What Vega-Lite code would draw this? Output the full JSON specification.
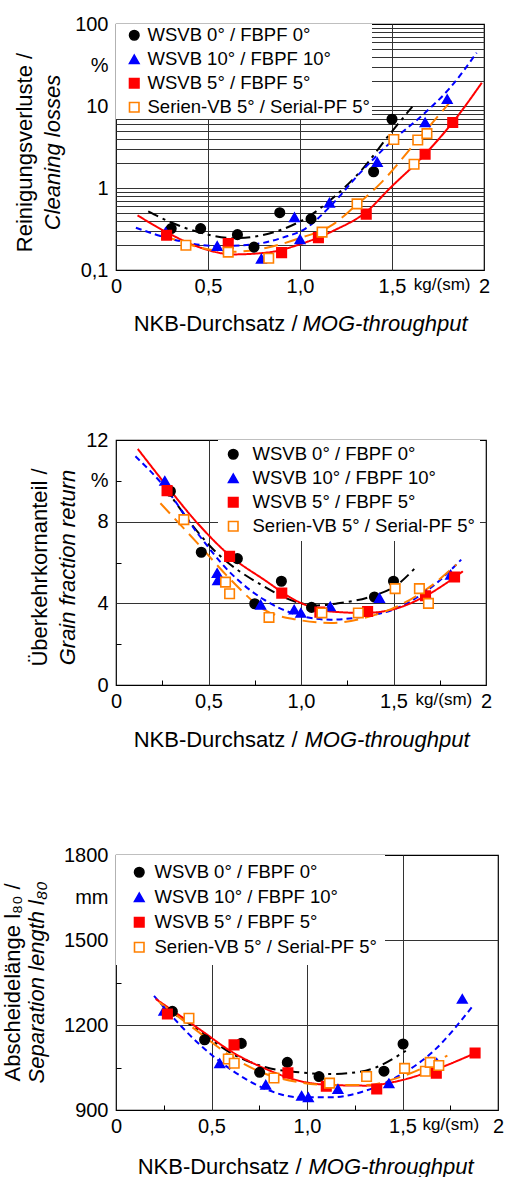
{
  "$schema": "https://vega.github.io/schema/vega-lite/v6.json",
  "padding": {"left": 0, "top": 13, "right": 0, "bottom": 0},
  "spacing": 170,
  "bounds": "flush",
  "datasets": {
    "lossPts": [
      {"s":"WSVB 0° / FBPF 0°","x":0.30,"y":0.32},{"s":"WSVB 0° / FBPF 0°","x":0.46,"y":0.32},{"s":"WSVB 0° / FBPF 0°","x":0.66,"y":0.27},{"s":"WSVB 0° / FBPF 0°","x":0.75,"y":0.19},{"s":"WSVB 0° / FBPF 0°","x":0.89,"y":0.50},{"s":"WSVB 0° / FBPF 0°","x":1.06,"y":0.42},{"s":"WSVB 0° / FBPF 0°","x":1.40,"y":1.58},{"s":"WSVB 0° / FBPF 0°","x":1.50,"y":6.9},
      {"s":"WSVB 10° / FBPF 10°","x":0.27,"y":0.29},{"s":"WSVB 10° / FBPF 10°","x":0.55,"y":0.196},{"s":"WSVB 10° / FBPF 10°","x":0.79,"y":0.137},{"s":"WSVB 10° / FBPF 10°","x":0.97,"y":0.44},{"s":"WSVB 10° / FBPF 10°","x":1.00,"y":0.237},{"s":"WSVB 10° / FBPF 10°","x":1.16,"y":0.66},{"s":"WSVB 10° / FBPF 10°","x":1.42,"y":2.07},{"s":"WSVB 10° / FBPF 10°","x":1.68,"y":6.3},{"s":"WSVB 10° / FBPF 10°","x":1.80,"y":12.1},
      {"s":"WSVB 5° / FBPF 5°","x":0.275,"y":0.265},{"s":"WSVB 5° / FBPF 5°","x":0.61,"y":0.21},{"s":"WSVB 5° / FBPF 5°","x":0.90,"y":0.163},{"s":"WSVB 5° / FBPF 5°","x":1.10,"y":0.248},{"s":"WSVB 5° / FBPF 5°","x":1.36,"y":0.48},{"s":"WSVB 5° / FBPF 5°","x":1.68,"y":2.58},{"s":"WSVB 5° / FBPF 5°","x":1.83,"y":6.3},
      {"s":"Serien-VB 5° / Serial-PF 5°","x":0.38,"y":0.20},{"s":"Serien-VB 5° / Serial-PF 5°","x":0.61,"y":0.165},{"s":"Serien-VB 5° / Serial-PF 5°","x":0.83,"y":0.139},{"s":"Serien-VB 5° / Serial-PF 5°","x":1.12,"y":0.29},{"s":"Serien-VB 5° / Serial-PF 5°","x":1.31,"y":0.64},{"s":"Serien-VB 5° / Serial-PF 5°","x":1.51,"y":3.9},{"s":"Serien-VB 5° / Serial-PF 5°","x":1.62,"y":1.95},{"s":"Serien-VB 5° / Serial-PF 5°","x":1.64,"y":3.85},{"s":"Serien-VB 5° / Serial-PF 5°","x":1.69,"y":4.6}
    ],
    "lossFit": [
      {"s":"WSVB 0° / FBPF 0°","x":0.175,"y":0.52},{"s":"WSVB 0° / FBPF 0°","x":0.30,"y":0.38},{"s":"WSVB 0° / FBPF 0°","x":0.46,"y":0.285},{"s":"WSVB 0° / FBPF 0°","x":0.64,"y":0.244},{"s":"WSVB 0° / FBPF 0°","x":0.88,"y":0.30},{"s":"WSVB 0° / FBPF 0°","x":1.04,"y":0.44},{"s":"WSVB 0° / FBPF 0°","x":1.18,"y":0.76},{"s":"WSVB 0° / FBPF 0°","x":1.33,"y":1.61},{"s":"WSVB 0° / FBPF 0°","x":1.49,"y":4.6},{"s":"WSVB 0° / FBPF 0°","x":1.61,"y":9.8},
      {"s":"WSVB 10° / FBPF 10°","x":0.108,"y":0.328},{"s":"WSVB 10° / FBPF 10°","x":0.26,"y":0.253},{"s":"WSVB 10° / FBPF 10°","x":0.55,"y":0.196},{"s":"WSVB 10° / FBPF 10°","x":0.75,"y":0.206},{"s":"WSVB 10° / FBPF 10°","x":0.91,"y":0.25},{"s":"WSVB 10° / FBPF 10°","x":1.03,"y":0.32},{"s":"WSVB 10° / FBPF 10°","x":1.165,"y":0.6},{"s":"WSVB 10° / FBPF 10°","x":1.328,"y":1.54},{"s":"WSVB 10° / FBPF 10°","x":1.49,"y":3.57},{"s":"WSVB 10° / FBPF 10°","x":1.67,"y":7.9},{"s":"WSVB 10° / FBPF 10°","x":1.816,"y":16.7},{"s":"WSVB 10° / FBPF 10°","x":1.96,"y":44.6},
      {"s":"WSVB 5° / FBPF 5°","x":0.117,"y":0.464},{"s":"WSVB 5° / FBPF 5°","x":0.28,"y":0.285},{"s":"WSVB 5° / FBPF 5°","x":0.46,"y":0.187},{"s":"WSVB 5° / FBPF 5°","x":0.64,"y":0.155},{"s":"WSVB 5° / FBPF 5°","x":0.82,"y":0.163},{"s":"WSVB 5° / FBPF 5°","x":1.0,"y":0.206},{"s":"WSVB 5° / FBPF 5°","x":1.18,"y":0.30},{"s":"WSVB 5° / FBPF 5°","x":1.364,"y":0.52},{"s":"WSVB 5° / FBPF 5°","x":1.49,"y":1.0},{"s":"WSVB 5° / FBPF 5°","x":1.67,"y":2.45},{"s":"WSVB 5° / FBPF 5°","x":1.85,"y":7.2},{"s":"WSVB 5° / FBPF 5°","x":1.988,"y":19.2},
      {"s":"Serien-VB 5° / Serial-PF 5°","x":0.25,"y":0.27},{"s":"Serien-VB 5° / Serial-PF 5°","x":0.46,"y":0.187},{"s":"Serien-VB 5° / Serial-PF 5°","x":0.64,"y":0.167},{"s":"Serien-VB 5° / Serial-PF 5°","x":0.82,"y":0.187},{"s":"Serien-VB 5° / Serial-PF 5°","x":1.0,"y":0.245},{"s":"Serien-VB 5° / Serial-PF 5°","x":1.18,"y":0.36},{"s":"Serien-VB 5° / Serial-PF 5°","x":1.29,"y":0.575},{"s":"Serien-VB 5° / Serial-PF 5°","x":1.436,"y":1.13},{"s":"Serien-VB 5° / Serial-PF 5°","x":1.635,"y":3.74},{"s":"Serien-VB 5° / Serial-PF 5°","x":1.835,"y":12.6}
    ],
    "grainPts": [
      {"s":"WSVB 0° / FBPF 0°","x":0.294,"y":9.49},{"s":"WSVB 0° / FBPF 0°","x":0.461,"y":6.5},{"s":"WSVB 0° / FBPF 0°","x":0.656,"y":6.19},{"s":"WSVB 0° / FBPF 0°","x":0.75,"y":3.98},{"s":"WSVB 0° / FBPF 0°","x":0.894,"y":5.08},{"s":"WSVB 0° / FBPF 0°","x":1.057,"y":3.8},{"s":"WSVB 0° / FBPF 0°","x":1.397,"y":4.31},{"s":"WSVB 0° / FBPF 0°","x":1.5,"y":5.08},
      {"s":"WSVB 10° / FBPF 10°","x":0.264,"y":10.0},{"s":"WSVB 10° / FBPF 10°","x":0.547,"y":5.48},{"s":"WSVB 10° / FBPF 10°","x":0.55,"y":5.13},{"s":"WSVB 10° / FBPF 10°","x":0.782,"y":3.93},{"s":"WSVB 10° / FBPF 10°","x":0.963,"y":3.69},{"s":"WSVB 10° / FBPF 10°","x":0.999,"y":3.53},{"s":"WSVB 10° / FBPF 10°","x":1.158,"y":3.85},{"s":"WSVB 10° / FBPF 10°","x":1.424,"y":4.26},{"s":"WSVB 10° / FBPF 10°","x":1.677,"y":4.42},{"s":"WSVB 10° / FBPF 10°","x":1.809,"y":5.40},
      {"s":"WSVB 5° / FBPF 5°","x":0.276,"y":9.52},{"s":"WSVB 5° / FBPF 5°","x":0.614,"y":6.3},{"s":"WSVB 5° / FBPF 5°","x":0.896,"y":4.5},{"s":"WSVB 5° / FBPF 5°","x":1.102,"y":3.57},{"s":"WSVB 5° / FBPF 5°","x":1.36,"y":3.6},{"s":"WSVB 5° / FBPF 5°","x":1.673,"y":4.37},{"s":"WSVB 5° / FBPF 5°","x":1.83,"y":5.29},
      {"s":"Serien-VB 5° / Serial-PF 5°","x":0.367,"y":8.1},{"s":"Serien-VB 5° / Serial-PF 5°","x":0.592,"y":5.04},{"s":"Serien-VB 5° / Serial-PF 5°","x":0.614,"y":4.47},{"s":"Serien-VB 5° / Serial-PF 5°","x":0.827,"y":3.31},{"s":"Serien-VB 5° / Serial-PF 5°","x":1.113,"y":3.53},{"s":"Serien-VB 5° / Serial-PF 5°","x":1.31,"y":3.53},{"s":"Serien-VB 5° / Serial-PF 5°","x":1.509,"y":4.72},{"s":"Serien-VB 5° / Serial-PF 5°","x":1.64,"y":4.72},{"s":"Serien-VB 5° / Serial-PF 5°","x":1.689,"y":4.0}
    ],
    "grainFit": [
      {"s":"WSVB 0° / FBPF 0°","x":0.26,"y":9.73},{"s":"WSVB 0° / FBPF 0°","x":0.53,"y":6.6},{"s":"WSVB 0° / FBPF 0°","x":0.80,"y":4.83},{"s":"WSVB 0° / FBPF 0°","x":0.98,"y":4.05},{"s":"WSVB 0° / FBPF 0°","x":1.09,"y":3.9},{"s":"WSVB 0° / FBPF 0°","x":1.2,"y":4.0},{"s":"WSVB 0° / FBPF 0°","x":1.38,"y":4.34},{"s":"WSVB 0° / FBPF 0°","x":1.52,"y":4.91},{"s":"WSVB 0° / FBPF 0°","x":1.62,"y":5.76},
      {"s":"WSVB 10° / FBPF 10°","x":0.105,"y":11.2},{"s":"WSVB 10° / FBPF 10°","x":0.26,"y":9.73},{"s":"WSVB 10° / FBPF 10°","x":0.44,"y":7.44},{"s":"WSVB 10° / FBPF 10°","x":0.62,"y":5.48},{"s":"WSVB 10° / FBPF 10°","x":0.80,"y":4.18},{"s":"WSVB 10° / FBPF 10°","x":0.98,"y":3.44},{"s":"WSVB 10° / FBPF 10°","x":1.16,"y":3.2},{"s":"WSVB 10° / FBPF 10°","x":1.34,"y":3.36},{"s":"WSVB 10° / FBPF 10°","x":1.52,"y":3.77},{"s":"WSVB 10° / FBPF 10°","x":1.70,"y":4.75},{"s":"WSVB 10° / FBPF 10°","x":1.866,"y":6.14},
      {"s":"WSVB 5° / FBPF 5°","x":0.118,"y":11.56},{"s":"WSVB 5° / FBPF 5°","x":0.276,"y":9.73},{"s":"WSVB 5° / FBPF 5°","x":0.44,"y":7.93},{"s":"WSVB 5° / FBPF 5°","x":0.62,"y":6.3},{"s":"WSVB 5° / FBPF 5°","x":0.80,"y":5.16},{"s":"WSVB 5° / FBPF 5°","x":0.98,"y":4.1},{"s":"WSVB 5° / FBPF 5°","x":1.16,"y":3.6},{"s":"WSVB 5° / FBPF 5°","x":1.343,"y":3.53},{"s":"WSVB 5° / FBPF 5°","x":1.523,"y":3.77},{"s":"WSVB 5° / FBPF 5°","x":1.70,"y":4.5},{"s":"WSVB 5° / FBPF 5°","x":1.875,"y":5.57},
      {"s":"Serien-VB 5° / Serial-PF 5°","x":0.24,"y":8.9},{"s":"Serien-VB 5° / Serial-PF 5°","x":0.44,"y":6.95},{"s":"Serien-VB 5° / Serial-PF 5°","x":0.62,"y":5.16},{"s":"Serien-VB 5° / Serial-PF 5°","x":0.80,"y":3.69},{"s":"Serien-VB 5° / Serial-PF 5°","x":0.98,"y":3.2},{"s":"Serien-VB 5° / Serial-PF 5°","x":1.16,"y":3.04},{"s":"Serien-VB 5° / Serial-PF 5°","x":1.34,"y":3.28},{"s":"Serien-VB 5° / Serial-PF 5°","x":1.52,"y":3.85},{"s":"Serien-VB 5° / Serial-PF 5°","x":1.70,"y":4.83},{"s":"Serien-VB 5° / Serial-PF 5°","x":1.84,"y":5.9}
    ],
    "sepPts": [
      {"s":"WSVB 0° / FBPF 0°","x":0.295,"y":1248},{"s":"WSVB 0° / FBPF 0°","x":0.464,"y":1148},{"s":"WSVB 0° / FBPF 0°","x":0.656,"y":1135},{"s":"WSVB 0° / FBPF 0°","x":0.752,"y":1033},{"s":"WSVB 0° / FBPF 0°","x":0.897,"y":1068},{"s":"WSVB 0° / FBPF 0°","x":1.063,"y":1018},{"s":"WSVB 0° / FBPF 0°","x":1.403,"y":1037},{"s":"WSVB 0° / FBPF 0°","x":1.503,"y":1133},
      {"s":"WSVB 10° / FBPF 10°","x":0.251,"y":1250},{"s":"WSVB 10° / FBPF 10°","x":0.543,"y":1065},{"s":"WSVB 10° / FBPF 10°","x":0.784,"y":989},{"s":"WSVB 10° / FBPF 10°","x":0.972,"y":950},{"s":"WSVB 10° / FBPF 10°","x":1.007,"y":945},{"s":"WSVB 10° / FBPF 10°","x":1.162,"y":974},{"s":"WSVB 10° / FBPF 10°","x":1.429,"y":994},{"s":"WSVB 10° / FBPF 10°","x":1.679,"y":1066},{"s":"WSVB 10° / FBPF 10°","x":1.813,"y":1292},
      {"s":"WSVB 5° / FBPF 5°","x":0.269,"y":1239},{"s":"WSVB 5° / FBPF 5°","x":0.618,"y":1130},{"s":"WSVB 5° / FBPF 5°","x":0.90,"y":1031},{"s":"WSVB 5° / FBPF 5°","x":1.101,"y":984},{"s":"WSVB 5° / FBPF 5°","x":1.365,"y":974},{"s":"WSVB 5° / FBPF 5°","x":1.677,"y":1030},{"s":"WSVB 5° / FBPF 5°","x":1.88,"y":1101},
      {"s":"Serien-VB 5° / Serial-PF 5°","x":0.382,"y":1224},{"s":"Serien-VB 5° / Serial-PF 5°","x":0.588,"y":1080},{"s":"Serien-VB 5° / Serial-PF 5°","x":0.619,"y":1065},{"s":"Serien-VB 5° / Serial-PF 5°","x":0.827,"y":1013},{"s":"Serien-VB 5° / Serial-PF 5°","x":1.118,"y":995},{"s":"Serien-VB 5° / Serial-PF 5°","x":1.312,"y":1018},{"s":"Serien-VB 5° / Serial-PF 5°","x":1.511,"y":1047},{"s":"Serien-VB 5° / Serial-PF 5°","x":1.62,"y":1037},{"s":"Serien-VB 5° / Serial-PF 5°","x":1.645,"y":1068},{"s":"Serien-VB 5° / Serial-PF 5°","x":1.69,"y":1057}
    ],
    "sepFit": [
      {"s":"WSVB 0° / FBPF 0°","x":0.242,"y":1268},{"s":"WSVB 0° / FBPF 0°","x":0.435,"y":1180},{"s":"WSVB 0° / FBPF 0°","x":0.61,"y":1098},{"s":"WSVB 0° / FBPF 0°","x":0.784,"y":1051},{"s":"WSVB 0° / FBPF 0°","x":0.958,"y":1033},{"s":"WSVB 0° / FBPF 0°","x":1.132,"y":1027},{"s":"WSVB 0° / FBPF 0°","x":1.307,"y":1039},{"s":"WSVB 0° / FBPF 0°","x":1.517,"y":1109},
      {"s":"WSVB 10° / FBPF 10°","x":0.199,"y":1303},{"s":"WSVB 10° / FBPF 10°","x":0.435,"y":1133},{"s":"WSVB 10° / FBPF 10°","x":0.61,"y":1039},{"s":"WSVB 10° / FBPF 10°","x":0.784,"y":974},{"s":"WSVB 10° / FBPF 10°","x":0.958,"y":945},{"s":"WSVB 10° / FBPF 10°","x":1.132,"y":945},{"s":"WSVB 10° / FBPF 10°","x":1.307,"y":968},{"s":"WSVB 10° / FBPF 10°","x":1.482,"y":1021},{"s":"WSVB 10° / FBPF 10°","x":1.656,"y":1104},{"s":"WSVB 10° / FBPF 10°","x":1.862,"y":1262},
      {"s":"WSVB 5° / FBPF 5°","x":0.208,"y":1292},{"s":"WSVB 5° / FBPF 5°","x":0.435,"y":1186},{"s":"WSVB 5° / FBPF 5°","x":0.61,"y":1104},{"s":"WSVB 5° / FBPF 5°","x":0.784,"y":1045},{"s":"WSVB 5° / FBPF 5°","x":0.958,"y":1003},{"s":"WSVB 5° / FBPF 5°","x":1.132,"y":988},{"s":"WSVB 5° / FBPF 5°","x":1.307,"y":986},{"s":"WSVB 5° / FBPF 5°","x":1.482,"y":1003},{"s":"WSVB 5° / FBPF 5°","x":1.656,"y":1039},{"s":"WSVB 5° / FBPF 5°","x":1.892,"y":1104},
      {"s":"Serien-VB 5° / Serial-PF 5°","x":0.225,"y":1281},{"s":"Serien-VB 5° / Serial-PF 5°","x":0.435,"y":1174},{"s":"Serien-VB 5° / Serial-PF 5°","x":0.61,"y":1086},{"s":"Serien-VB 5° / Serial-PF 5°","x":0.784,"y":1027},{"s":"Serien-VB 5° / Serial-PF 5°","x":0.958,"y":998},{"s":"Serien-VB 5° / Serial-PF 5°","x":1.132,"y":988},{"s":"Serien-VB 5° / Serial-PF 5°","x":1.307,"y":988},{"s":"Serien-VB 5° / Serial-PF 5°","x":1.482,"y":1015},{"s":"Serien-VB 5° / Serial-PF 5°","x":1.735,"y":1092}
    ]
  },
  "vconcat": [
    {
      "width": 368, "height": 246,
      "layer": [
        {
          "data": {"name": "lossFit"},
          "mark": {"type": "line", "strokeWidth": 2, "interpolate": "monotone", "clip": true},
          "encoding": {
            "x": {"field": "x", "type": "quantitative", "scale": {"domain": [0, 2], "nice": false},
              "axis": {"orient": "bottom", "values": [0, 0.5, 1, 1.5, 1.77, 2], "grid": false, "labelPadding": 6, "labelOverlap": false, "labelFlush": false,
                "labelExpr": "datum.value == 0 ? '0' : datum.value == 2 ? '2' : datum.value > 1.7 ? 'kg/(sm)' : replace(format(datum.value, '.1f'), '.', ',')",
                "labelFontSize": {"condition": {"test": "datum.value > 1.7 && datum.value < 1.9", "value": 17}, "value": 20},
                "title": "NKB-Durchsatz /", "titleAlign": "right", "titleX": 181, "titleY": 60, "titleBaseline": "alphabetic"}},
            "y": {"field": "y", "type": "quantitative", "scale": {"type": "log", "domain": [0.1, 100], "nice": false},
              "axis": {"orient": "left", "values": [0.1, 1, 10, 31.62, 100], "grid": false, "labelPadding": 8,
                "labelExpr": "datum.value < 0.5 ? '0,1' : datum.value < 5 ? '1' : datum.value < 20 ? '10' : datum.value < 50 ? '%' : '100'",
                "title": "Reinigungsverluste /", "titleX": -92, "titleY": 128, "titleAngle": 270, "titleBaseline": "middle"}},
            "color": {"field": "s", "type": "nominal", "legend": null, "scale": {"domain": ["WSVB 0° / FBPF 0°", "WSVB 10° / FBPF 10°", "WSVB 5° / FBPF 5°", "Serien-VB 5° / Serial-PF 5°"], "range": ["#000000", "#0000ff", "#ff0000", "#ff8000"]}},
            "strokeDash": {"field": "s", "type": "nominal", "legend": null, "scale": {"domain": ["WSVB 0° / FBPF 0°", "WSVB 10° / FBPF 10°", "WSVB 5° / FBPF 5°", "Serien-VB 5° / Serial-PF 5°"], "range": [[11, 5, 3, 5], [6, 4], [1, 0], [14, 7]]}}
          }
        },
        {
          "data": {"name": "lossPts"},
          "mark": {"type": "point", "size": 90, "strokeWidth": 1.6, "opacity": 1},
          "encoding": {
            "x": {"field": "x", "type": "quantitative", "scale": {"domain": [0, 2], "nice": false},
              "axis": {"orient": "bottom", "values": [0.5, 1, 1.5], "grid": true, "labels": false,
                "title": "MOG-throughput", "titleFontStyle": "italic", "titleAlign": "left", "titleX": 186, "titleY": 60, "titleBaseline": "alphabetic"}},
            "y": {"field": "y", "type": "quantitative", "scale": {"type": "log", "domain": [0.1, 100], "nice": false},
              "axis": {"orient": "left", "values": [0.2, 0.3, 0.4, 0.5, 0.6, 0.7, 0.8, 0.9, 1, 2, 3, 4, 5, 6, 7, 8, 9, 10, 20, 30, 40, 50, 60, 70, 80, 90], "grid": true, "labels": false,
                "title": "Cleaning losses", "titleFontStyle": "italic", "titleX": -64, "titleY": 128, "titleAngle": 270, "titleBaseline": "middle"}},
            "shape": {"field": "s", "type": "nominal", "scale": {"domain": ["WSVB 0° / FBPF 0°", "WSVB 10° / FBPF 10°", "WSVB 5° / FBPF 5°", "Serien-VB 5° / Serial-PF 5°"], "range": ["circle", "triangle-up", "square", "square"]},
              "legend": {"title": null, "orient": "top-left", "offset": 0, "padding": 2, "fillColor": "white", "symbolOffset": 7, "labelOffset": 4, "rowPadding": 5, "labelFontSize": 18.5, "labelLimit": 400, "symbolSize": 90, "symbolStrokeWidth": 1.6}},
            "fill": {"field": "s", "type": "nominal", "scale": {"domain": ["WSVB 0° / FBPF 0°", "WSVB 10° / FBPF 10°", "WSVB 5° / FBPF 5°", "Serien-VB 5° / Serial-PF 5°"], "range": ["#000000", "#0000ff", "#ff0000", "#ffffff"]},
              "legend": {"title": null, "orient": "top-left", "offset": 0, "padding": 2, "fillColor": "white", "symbolOffset": 7, "labelOffset": 4, "rowPadding": 5, "labelFontSize": 18.5, "labelLimit": 400, "symbolSize": 90, "symbolStrokeWidth": 1.6}},
            "stroke": {"field": "s", "type": "nominal", "scale": {"domain": ["WSVB 0° / FBPF 0°", "WSVB 10° / FBPF 10°", "WSVB 5° / FBPF 5°", "Serien-VB 5° / Serial-PF 5°"], "range": ["#000000", "#0000ff", "#ff0000", "#ff8000"]},
              "legend": {"title": null, "orient": "top-left", "offset": 0, "padding": 2, "fillColor": "white", "symbolOffset": 7, "labelOffset": 4, "rowPadding": 5, "labelFontSize": 18.5, "labelLimit": 400, "symbolSize": 90, "symbolStrokeWidth": 1.6}}
          }
        }
      ],
      "resolve": {"axis": {"x": "independent", "y": "independent"}}
    },
    {
      "width": 370, "height": 245,
      "layer": [
        {
          "data": {"name": "grainFit"},
          "mark": {"type": "line", "strokeWidth": 2, "interpolate": "monotone", "clip": true},
          "encoding": {
            "x": {"field": "x", "type": "quantitative", "scale": {"domain": [0, 2], "nice": false},
              "axis": {"orient": "bottom", "values": [0, 0.5, 1, 1.5, 1.77, 2], "grid": false, "labelPadding": 6, "labelOverlap": false, "labelFlush": false,
                "labelExpr": "datum.value == 0 ? '0' : datum.value == 2 ? '2' : datum.value > 1.7 ? 'kg/(sm)' : replace(format(datum.value, '.1f'), '.', ',')",
                "labelFontSize": {"condition": {"test": "datum.value > 1.7 && datum.value < 1.9", "value": 17}, "value": 20},
                "title": "NKB-Durchsatz /", "titleAlign": "right", "titleX": 181, "titleY": 61, "titleBaseline": "alphabetic"}},
            "y": {"field": "y", "type": "quantitative", "scale": {"domain": [0, 12], "nice": false},
              "axis": {"orient": "left", "values": [0, 4, 8, 10, 12], "grid": false, "labelPadding": 8,
                "labelExpr": "datum.value == 10 ? '%' : format(datum.value, 'd')",
                "title": "Überkehrkornanteil /", "titleX": -77, "titleY": 127, "titleAngle": 270, "titleBaseline": "middle"}},
            "color": {"field": "s", "type": "nominal", "legend": null, "scale": {"domain": ["WSVB 0° / FBPF 0°", "WSVB 10° / FBPF 10°", "WSVB 5° / FBPF 5°", "Serien-VB 5° / Serial-PF 5°"], "range": ["#000000", "#0000ff", "#ff0000", "#ff8000"]}},
            "strokeDash": {"field": "s", "type": "nominal", "legend": null, "scale": {"domain": ["WSVB 0° / FBPF 0°", "WSVB 10° / FBPF 10°", "WSVB 5° / FBPF 5°", "Serien-VB 5° / Serial-PF 5°"], "range": [[11, 5, 3, 5], [6, 4], [1, 0], [14, 7]]}}
          }
        },
        {
          "data": {"name": "grainPts"},
          "mark": {"type": "point", "size": 90, "strokeWidth": 1.6, "opacity": 1},
          "encoding": {
            "x": {"field": "x", "type": "quantitative", "scale": {"domain": [0, 2], "nice": false},
              "axis": {"orient": "bottom", "values": [0.25, 0.5, 0.75, 1, 1.25, 1.5, 1.75], "grid": true, "labels": false,
                "gridOpacity": {"condition": {"test": "datum.value == 0.25 || datum.value == 0.75 || datum.value == 1.25 || datum.value == 1.75", "value": 0}, "value": 1},
                "ticks": true, "tickSize": -5, "tickColor": "#000000",
                "tickOpacity": {"condition": {"test": "datum.value == 0.5 || datum.value == 1 || datum.value == 1.5", "value": 0}, "value": 1},
                "title": "MOG-throughput", "titleFontStyle": "italic", "titleAlign": "left", "titleX": 188, "titleY": 61, "titleBaseline": "alphabetic"}},
            "y": {"field": "y", "type": "quantitative", "scale": {"domain": [0, 12], "nice": false},
              "axis": {"orient": "left", "values": [2, 4, 6, 8, 10], "grid": true, "labels": false,
                "gridOpacity": {"condition": {"test": "datum.value == 2 || datum.value == 6 || datum.value == 10", "value": 0}, "value": 1},
                "ticks": true, "tickSize": -5, "tickColor": "#000000",
                "tickOpacity": {"condition": {"test": "datum.value == 4 || datum.value == 8", "value": 0}, "value": 1},
                "title": "Grain fraction return", "titleFontStyle": "italic", "titleX": -49, "titleY": 127, "titleAngle": 270, "titleBaseline": "middle"}},
            "shape": {"field": "s", "type": "nominal", "scale": {"domain": ["WSVB 0° / FBPF 0°", "WSVB 10° / FBPF 10°", "WSVB 5° / FBPF 5°", "Serien-VB 5° / Serial-PF 5°"], "range": ["circle", "triangle-up", "square", "square"]},
              "legend": {"title": null, "orient": "none", "legendX": 102, "legendY": 0, "padding": 5, "fillColor": "white", "symbolOffset": 1, "labelOffset": 10, "rowPadding": 5, "labelFontSize": 18.5, "labelLimit": 400, "symbolSize": 90, "symbolStrokeWidth": 1.6}},
            "fill": {"field": "s", "type": "nominal", "scale": {"domain": ["WSVB 0° / FBPF 0°", "WSVB 10° / FBPF 10°", "WSVB 5° / FBPF 5°", "Serien-VB 5° / Serial-PF 5°"], "range": ["#000000", "#0000ff", "#ff0000", "#ffffff"]},
              "legend": {"title": null, "orient": "none", "legendX": 102, "legendY": 0, "padding": 5, "fillColor": "white", "symbolOffset": 1, "labelOffset": 10, "rowPadding": 5, "labelFontSize": 18.5, "labelLimit": 400, "symbolSize": 90, "symbolStrokeWidth": 1.6}},
            "stroke": {"field": "s", "type": "nominal", "scale": {"domain": ["WSVB 0° / FBPF 0°", "WSVB 10° / FBPF 10°", "WSVB 5° / FBPF 5°", "Serien-VB 5° / Serial-PF 5°"], "range": ["#000000", "#0000ff", "#ff0000", "#ff8000"]},
              "legend": {"title": null, "orient": "none", "legendX": 102, "legendY": 0, "padding": 5, "fillColor": "white", "symbolOffset": 1, "labelOffset": 10, "rowPadding": 5, "labelFontSize": 18.5, "labelLimit": 400, "symbolSize": 90, "symbolStrokeWidth": 1.6}}
          }
        }
      ],
      "resolve": {"axis": {"x": "independent", "y": "independent"}}
    },
    {
      "width": 382, "height": 255,
      "layer": [
        {
          "data": {"name": "sepFit"},
          "mark": {"type": "line", "strokeWidth": 2, "interpolate": "monotone", "clip": true},
          "encoding": {
            "x": {"field": "x", "type": "quantitative", "scale": {"domain": [0, 2], "nice": false},
              "axis": {"orient": "bottom", "values": [0, 0.5, 1, 1.5, 1.75, 2], "grid": false, "labelPadding": 6, "labelOverlap": false, "labelFlush": false,
                "labelExpr": "datum.value == 0 ? '0' : datum.value == 2 ? '2' : datum.value > 1.7 ? 'kg/(sm)' : replace(format(datum.value, '.1f'), '.', ',')",
                "labelFontSize": {"condition": {"test": "datum.value > 1.7 && datum.value < 1.9", "value": 17}, "value": 20},
                "title": "NKB-Durchsatz /", "titleAlign": "right", "titleX": 185, "titleY": 63, "titleBaseline": "alphabetic"}},
            "y": {"field": "y", "type": "quantitative", "scale": {"domain": [900, 1800], "nice": false, "zero": false},
              "axis": {"orient": "left", "values": [900, 1200, 1500, 1650, 1800], "grid": false, "labelPadding": 8,
                "labelExpr": "datum.value == 1650 ? 'mm' : format(datum.value, 'd')",
                "title": "Abscheidelänge l₈₀ /", "titleX": -104, "titleY": 127, "titleAngle": 270, "titleBaseline": "middle"}},
            "color": {"field": "s", "type": "nominal", "legend": null, "scale": {"domain": ["WSVB 0° / FBPF 0°", "WSVB 10° / FBPF 10°", "WSVB 5° / FBPF 5°", "Serien-VB 5° / Serial-PF 5°"], "range": ["#000000", "#0000ff", "#ff0000", "#ff8000"]}},
            "strokeDash": {"field": "s", "type": "nominal", "legend": null, "scale": {"domain": ["WSVB 0° / FBPF 0°", "WSVB 10° / FBPF 10°", "WSVB 5° / FBPF 5°", "Serien-VB 5° / Serial-PF 5°"], "range": [[11, 5, 3, 5], [6, 4], [1, 0], [14, 7]]}}
          }
        },
        {
          "data": {"name": "sepPts"},
          "mark": {"type": "point", "size": 90, "strokeWidth": 1.6, "opacity": 1},
          "encoding": {
            "x": {"field": "x", "type": "quantitative", "scale": {"domain": [0, 2], "nice": false},
              "axis": {"orient": "bottom", "values": [0.25, 0.5, 0.75, 1, 1.25, 1.5, 1.75], "grid": true, "labels": false,
                "gridOpacity": {"condition": {"test": "datum.value == 0.25 || datum.value == 0.75 || datum.value == 1.25 || datum.value == 1.75", "value": 0}, "value": 1},
                "ticks": true, "tickSize": -5, "tickColor": "#000000",
                "tickOpacity": {"condition": {"test": "datum.value == 0.5 || datum.value == 1 || datum.value == 1.5", "value": 0}, "value": 1},
                "title": "MOG-throughput", "titleFontStyle": "italic", "titleAlign": "left", "titleX": 192, "titleY": 63, "titleBaseline": "alphabetic"}},
            "y": {"field": "y", "type": "quantitative", "scale": {"domain": [900, 1800], "nice": false, "zero": false},
              "axis": {"orient": "left", "values": [1050, 1200, 1350, 1500, 1650], "grid": true, "labels": false,
                "gridOpacity": {"condition": {"test": "datum.value == 1050 || datum.value == 1350 || datum.value == 1650", "value": 0}, "value": 1},
                "ticks": true, "tickSize": -5, "tickColor": "#000000",
                "tickOpacity": {"condition": {"test": "datum.value == 1200 || datum.value == 1500", "value": 0}, "value": 1},
                "title": "Separation length l₈₀", "titleFontStyle": "italic", "titleX": -80, "titleY": 127, "titleAngle": 270, "titleBaseline": "middle"}},
            "shape": {"field": "s", "type": "nominal", "scale": {"domain": ["WSVB 0° / FBPF 0°", "WSVB 10° / FBPF 10°", "WSVB 5° / FBPF 5°", "Serien-VB 5° / Serial-PF 5°"], "range": ["circle", "triangle-up", "square", "square"]},
              "legend": {"title": null, "orient": "top-left", "offset": 0, "padding": 8, "fillColor": "white", "symbolOffset": 6, "labelOffset": 6, "rowPadding": 6, "labelFontSize": 18.5, "labelLimit": 400, "symbolSize": 90, "symbolStrokeWidth": 1.6}},
            "fill": {"field": "s", "type": "nominal", "scale": {"domain": ["WSVB 0° / FBPF 0°", "WSVB 10° / FBPF 10°", "WSVB 5° / FBPF 5°", "Serien-VB 5° / Serial-PF 5°"], "range": ["#000000", "#0000ff", "#ff0000", "#ffffff"]},
              "legend": {"title": null, "orient": "top-left", "offset": 0, "padding": 8, "fillColor": "white", "symbolOffset": 6, "labelOffset": 6, "rowPadding": 6, "labelFontSize": 18.5, "labelLimit": 400, "symbolSize": 90, "symbolStrokeWidth": 1.6}},
            "stroke": {"field": "s", "type": "nominal", "scale": {"domain": ["WSVB 0° / FBPF 0°", "WSVB 10° / FBPF 10°", "WSVB 5° / FBPF 5°", "Serien-VB 5° / Serial-PF 5°"], "range": ["#000000", "#0000ff", "#ff0000", "#ff8000"]},
              "legend": {"title": null, "orient": "top-left", "offset": 0, "padding": 8, "fillColor": "white", "symbolOffset": 6, "labelOffset": 6, "rowPadding": 6, "labelFontSize": 18.5, "labelLimit": 400, "symbolSize": 90, "symbolStrokeWidth": 1.6}}
          }
        }
      ],
      "resolve": {"axis": {"x": "independent", "y": "independent"}}
    }
  ],
  "config": {
    "font": "Liberation Sans",
    "view": {"stroke": "#000000", "strokeWidth": 1.2},
    "axis": {"domain": false, "ticks": false, "labelFont": "Liberation Sans", "labelFontSize": 20, "labelColor": "#000000", "titleFont": "Liberation Sans", "titleFontSize": 22, "titleFontWeight": "normal", "titleColor": "#000000", "gridColor": "#333333", "gridWidth": 1, "gridOpacity": 1},
    "legend": {"labelFont": "Liberation Sans", "labelColor": "#000000"}
  }
}
